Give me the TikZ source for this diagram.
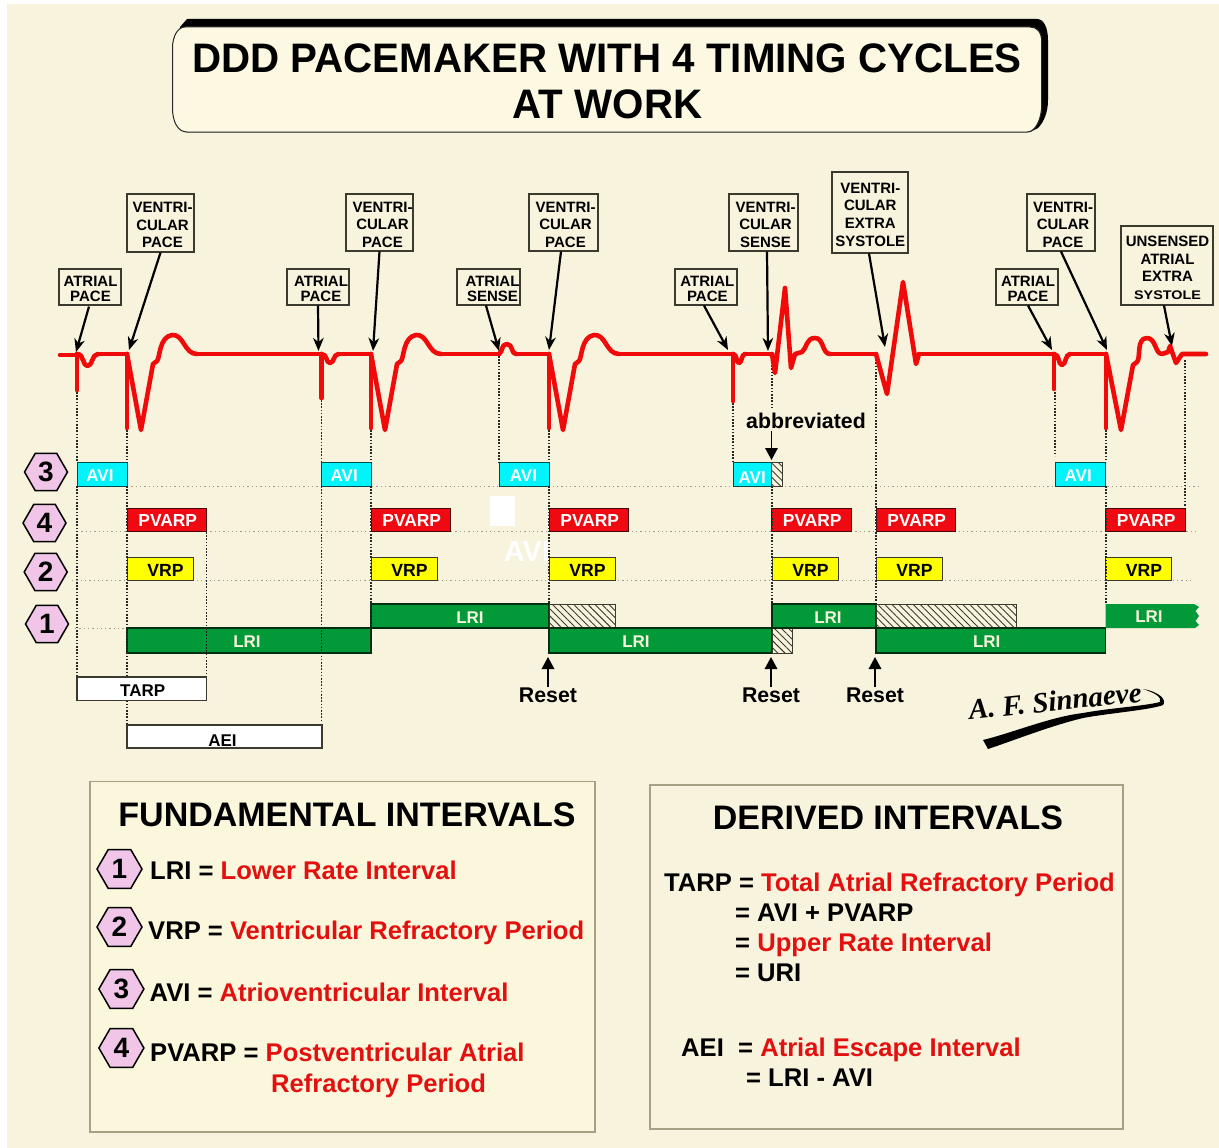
\documentclass[tikz,border=0pt]{standalone}
\usepackage{fontspec}
\usepackage{graphicx}
\setmainfont{Liberation Sans}
\newfontfamily\sigfont{Liberation Serif}
\usetikzlibrary{arrows.meta,shapes.geometric,patterns.meta,calc}
\definecolor{bgc}{HTML}{F7F3DC}
\definecolor{panelc}{HTML}{FAF7DC}
\definecolor{titlec}{HTML}{FCF8E2}
\definecolor{panelb}{HTML}{A5A184}
\definecolor{ecgred}{HTML}{F00A0A}
\definecolor{txtred}{HTML}{E31010}
\definecolor{avic}{HTML}{00F5FA}
\definecolor{pvc}{HTML}{EE0A10}
\definecolor{vrpc}{HTML}{FFFF00}
\definecolor{lric}{HTML}{029A38}
\definecolor{hexc}{HTML}{F0C5E8}
\definecolor{edgec}{HTML}{3A3A2E}
\newcommand{\fsz}[2]{\fontsize{#1}{#2}\selectfont\bfseries}
% a strut that moves the text of a one-line box down by #1 pt
\newcommand{\dn}[1]{\rule{0pt}{\dimexpr 12.3pt+#1pt+#1pt\relax}}
% style, name, x1, y1, x2, y2, text
\newcommand{\tbox}[7]{%
  \pgfmathsetmacro{\cxv}{(#3+#5)/2}\pgfmathsetmacro{\cyv}{(#4+#6)/2}%
  \pgfmathsetmacro{\wv}{#5-#3}\pgfmathsetmacro{\hv}{#6-#4}%
  \node[#1,minimum width=\wv pt,minimum height=\hv pt,inner sep=0pt] (#2) at (\cxv,\cyv) {#7};}
% style, name, x1, y1, x2, y2, text shift in x, text
\newcommand{\cbox}[8]{%
  \tbox{callshape}{#2}{#3}{#4}{#5}{#6}{}%
  \node[#1] (#2t) at ($(#2)+(#7,2.2)$) {#8};}
\newcommand{\pacedbeat}[1]{%
  \begin{scope}[xshift=#1pt]
    \draw[ecg] (127,354) -- (127,428);
    \draw[ecg] (127,354) -- (141,430) -- (153,364) -- (157,361)
      .. controls (160,358) and (159,337) .. (172,335)
      .. controls (184,334) and (184,354) .. (197,354);
  \end{scope}}
% x, lowest y of the spike, width of the dip, depth of the dip
\newcommand{\atrialbeat}[4]{%
  \begin{scope}[xshift=#1pt]
    \pgfmathsetmacro{\wa}{0.35*#3}\pgfmathsetmacro{\wb}{0.25*#3}\pgfmathsetmacro{\wc}{0.5*#3}%
    \pgfmathsetmacro{\wd}{0.75*#3}\pgfmathsetmacro{\we}{0.7*#3}\pgfmathsetmacro{\dy}{354+#4}%
    \draw[ecg] (0,354) -- (0,#2);
    \draw[ecg] (0,354) .. controls (\wa,354) and (\wb,\dy) .. (\wc,\dy)
      .. controls (\wd,\dy) and (\we,354) .. (#3,354);
  \end{scope}}
\tikzset{
  ecg/.style={draw=ecgred,line width=4.6pt,line cap=round,line join=round},
  hdot/.style={draw=black!35!bgc,line width=0.9pt,dash pattern=on 1.3pt off 3pt},
  vdot/.style={draw=black!85,line width=1.5pt,dash pattern=on 1.6pt off 1.6pt},
  callshape/.style={draw=edgec,line width=1.1pt,fill=bgc},
  calltext/.style={inner sep=0pt,align=center,font=\fsz{15}{17.7}},
  calltight/.style={calltext,font=\fsz{15}{15.2}},
  callarrow/.style={draw=black,line width=2.2pt,-{Stealth[length=13pt,width=10.5pt,inset=4pt]}},
  resetarrow/.style={draw=black,line width=1.6pt,-{Triangle[length=12pt,width=12.5pt]}},
  avibox/.style={draw=black!70!avic,line width=1pt,fill=avic,text=white,font=\fsz{17}{17}},
  pvbox/.style={draw=black!70!pvc,line width=1pt,fill=pvc,text=white,font=\fsz{17.4}{17}},
  vrpbox/.style={draw=edgec,line width=1pt,fill=vrpc,text=black,font=\fsz{17.6}{17}},
  lribox/.style={draw=black!70!lric,line width=1.1pt,fill=lric,text=bgc,font=\fsz{17}{17}},
  whitebox/.style={draw=edgec,line width=1.1pt,fill=white,text=black,font=\fsz{17}{17}},
  hatched/.style={draw=edgec,line width=1pt,pattern={Lines[angle=-45,distance=5pt,line width=0.9pt]},pattern color=edgec},
  hexnum/.style={regular polygon,regular polygon sides=6,minimum size=43pt,inner sep=0pt,draw=black,line width=1.5pt,fill=hexc,font=\fsz{28}{28}},
  paneltxt/.style={anchor=base west,inner sep=0pt,font=\fsz{25.6}{28}},
  panelhead/.style={anchor=center,inner sep=0pt,font=\fsz{34}{36}},
  panelbox/.style={draw=panelb,line width=1.2pt,fill=panelc},
  midtxt/.style={inner sep=0pt,font=\fsz{21.3}{24}}
}
\begin{document}
\begin{tikzpicture}[x=1pt,y=-1pt]
\useasboundingbox (0,0) rectangle (1219,1148);
\fill[white] (0,0) rectangle (1219,1148);
\fill[bgc] (7,4) rectangle (1219,1148);

% title plaque
\fill[black] (187,19) -- (1037,19) .. controls (1044,19) and (1048,28) .. (1048,40)
  -- (1048,100) .. controls (1048,112) and (1044,122) .. (1038,128) -- (1030,132)
  -- (185,132) -- (180,27) -- cycle;
\filldraw[fill=titlec,draw=black!85,line width=1pt] (185,27) -- (1030,27)
  .. controls (1037,27) and (1041.7,32) .. (1041.7,42) -- (1041.7,105)
  .. controls (1041.7,118) and (1036,132) .. (1027,132) -- (187,132)
  .. controls (178,132) and (172.5,122) .. (172.5,108) -- (172.5,48)
  .. controls (172.5,36) and (178,27) .. (185,27) -- cycle;
\node[inner sep=0pt,font=\fsz{41.2}{46}] (title1) at (607,58) {\scalebox{0.978}[1]{DDD PACEMAKER WITH 4 TIMING CYCLES}};
\node[inner sep=0pt,font=\fsz{41.2}{46}] (title2) at (607.5,104.5) {\scalebox{0.978}[1]{AT WORK}};

% horizontal guides
\draw[hdot] (127,486) -- (1200,486);
\draw[hdot] (77,531) -- (1197,531);
\draw[hdot] (72,580) -- (1193,580);
\draw[hdot] (75,628) -- (127,628);

% artefact of the source
\fill[white] (490,496) rectangle (515,526);
\node[inner sep=0pt,text=white,font=\fsz{29}{29}] (ghost) at (527,552) {AVI};

% hexagons of the rows
\node[hexnum] (h3) at (46,472) {3};
\node[hexnum] (h4) at (44.5,523) {4};
\node[hexnum] (h2) at (45.7,572) {2};
\node[hexnum] (h1) at (47,624) {1};

% AVI row
\tbox{avibox}{av1}{77}{462}{127}{486}{\dn{1}\hspace{-4pt}AVI}
\tbox{avibox}{av2}{321.5}{462}{371}{486}{\dn{1}\hspace{-4pt}AVI}
\tbox{avibox}{av3}{499}{462}{549}{486}{\dn{1}\hspace{-1pt}AVI}
\tbox{avibox}{av4}{733}{462}{771.5}{486}{\dn{3}AVI}
\tbox{hatched}{avh}{771.5}{462}{782}{486}{}
\tbox{avibox}{av5}{1055}{462}{1105.5}{486}{\dn{1}\hspace{-4pt}AVI}

% PVARP row
\foreach \n/\a in {1/127,2/371,3/549,4/771.5,5/876,6/1105.5}{
  \pgfmathsetmacro{\e}{\a+79.5}
  \tbox{pvbox}{pv\n}{\a}{508}{\e}{531.5}{\dn{1}\hspace{2pt}PVARP}
}
% VRP row
\foreach \n/\a in {1/127,2/371,3/549,4/772,5/876,6/1105.5}{
  \pgfmathsetmacro{\e}{\a+66}
  \tbox{vrpbox}{vr\n}{\a}{557}{\e}{580}{\dn{1.5}\hspace{11pt}VRP}
}
% LRI rows
\tbox{lribox}{lr1}{127}{628}{371}{653}{\dn{1}\hspace{-4pt}LRI}
\tbox{lribox}{lr2}{371}{604}{549}{628}{\dn{1}\hspace{20pt}LRI}
\tbox{hatched}{lh2}{549}{604}{615}{628}{}
\tbox{lribox}{lr3}{549}{628}{772}{653}{\dn{1}\hspace{-49pt}LRI}
\tbox{hatched}{lh3}{772}{628}{792}{653}{}
\tbox{lribox}{lr4}{772}{604}{876}{628}{\dn{1}\hspace{8pt}LRI}
\tbox{hatched}{lh4}{876}{604}{1016.5}{628}{}
\tbox{lribox}{lr5}{876}{628}{1105.5}{653}{\dn{1}\hspace{-8pt}LRI}
\fill[lric] (1105.5,604) -- (1194,604) -- (1199,607) -- (1195.5,611) -- (1199,616)
  -- (1195.5,621) -- (1199,625) -- (1195,628) -- (1105.5,628) -- cycle;
\node[inner sep=0pt,text=bgc,font=\fsz{17}{17}] (lr6) at (1149,617) {LRI};

% vertical guides
\foreach \x/\a/\b in {77/392/462, 77/486/677, 127/430/462, 127/486/725, 206.5/532/677,
  321.5/400/462, 321.5/486/720, 371/430/462, 371/486/628, 499/356/462, 549/430/462, 549/486/604,
  733/403/462, 772/362/407, 772/486/604, 876/356/601, 1055/392/456, 1106/430/462, 1106/486/604,
  1185/360/507}{
  \draw[vdot] (\x,\a) -- (\x,\b);
}

% derived intervals
\tbox{whitebox}{tarp}{77}{677}{206.5}{700.5}{\dn{1.5}\hspace{2pt}TARP}
\tbox{whitebox}{aei}{127}{725}{322}{748}{\dn{3.5}\hspace{-4pt}AEI}

% ECG
\draw[ecg] (60,355) -- (77,355) (98,354) -- (127,354) (197,354) -- (321.5,354)
  (338.5,354) -- (371,354) (441,354) -- (499,354) (516,354) -- (549,354)
  (619,354) -- (733,354) (745,354) -- (772,354) (830,354) -- (876,354)
  (919,354) -- (1054,354) (1070,354) -- (1106,354);
\atrialbeat{77}{390}{21}{12}
\atrialbeat{321.5}{398}{17}{9}
\atrialbeat{733}{401}{12}{9}
\atrialbeat{1054}{389}{16}{11}
\pacedbeat{0}
\pacedbeat{244}
\pacedbeat{422}
\draw[ecg] (499,354) .. controls (503,352) and (501,344) .. (507,344)
  .. controls (513,344) and (511,354) .. (516,354);
\draw[ecg] (772,354) -- (775,373) -- (785,288) -- (791,368) -- (795,354) -- (802,352)
  .. controls (807,348) and (806,338) .. (815,338) .. controls (824,338) and (822,354) .. (830,354);
\draw[ecg] (876,354) -- (887,394) -- (903,282) -- (916,364) -- (919,354);
\draw[ecg] (1106,354) -- (1106,428);
\draw[ecg] (1106,354) -- (1121,430) -- (1133,365) -- (1137,362)
  .. controls (1141,358) and (1136,338) .. (1147,338)
  .. controls (1156,338) and (1155,354) .. (1162,354)
  -- (1168,352) -- (1170,346) -- (1176,363) -- (1182,354) -- (1206,354);

% callouts
\cbox{calltight}{a1}{59}{269}{121}{305}{0.5}{ATRIAL\\PACE}
\cbox{calltext}{v1}{127}{194}{194}{252}{2}{VENTRI-\\CULAR\\PACE}
\cbox{calltight}{a2}{287}{269}{349}{305}{3}{ATRIAL\\PACE}
\cbox{calltext}{v2}{346}{194}{413}{251}{3}{VENTRI-\\CULAR\\PACE}
\cbox{calltight}{s3}{457}{269}{520}{305}{4}{ATRIAL\\SENSE}
\cbox{calltext}{v3}{529}{194}{598}{251}{2}{VENTRI-\\CULAR\\PACE}
\cbox{calltight}{a4}{675}{269}{737}{305}{1.3}{ATRIAL\\PACE}
\cbox{calltext}{v4}{729}{194}{798}{251}{2}{VENTRI-\\CULAR\\SENSE}
\cbox{calltext}{ve}{832}{172}{908}{253}{0.3}{VENTRI-\\CULAR\\EXTRA\\SYSTOLE}
\cbox{calltext}{v5}{1027}{194}{1095}{251}{2}{VENTRI-\\CULAR\\PACE}
\cbox{calltight}{a5}{996}{269}{1058}{305}{1}{ATRIAL\\PACE}
\cbox{calltext}{ua}{1121}{226}{1213}{305}{0.5}{UNSENSED\\ATRIAL\\EXTRA\\\scalebox{1.15}[1]{\fsz{12.5}{15}SYSTOLE}}

\coordinate (ta1) at (76,352);
\coordinate (tv1) at (129,350);
\coordinate (ta2) at (318.5,351);
\coordinate (tv2) at (373,351);
\coordinate (ts3) at (499,351);
\coordinate (tv3) at (549,350);
\coordinate (ta4) at (728,350);
\coordinate (tv4) at (768,351);
\coordinate (tve) at (885,347);
\coordinate (tv5) at (1107,350);
\coordinate (ta5) at (1052,350);
\coordinate (tua) at (1172,346);
\draw[callarrow] ($(a1.south)+(-1,1)$) -- (ta1);
\draw[callarrow] ($(v1.south)+(0,0)$) -- (tv1);
\draw[callarrow] ($(a2.south)+(0,0)$) -- (ta2);
\draw[callarrow] ($(v2.south)+(0,0)$) -- (tv2);
\draw[callarrow] ($(s3.south)+(-2.5,0)$) -- (ts3);
\draw[callarrow] ($(v3.south)+(-2.5,0)$) -- (tv3);
\draw[callarrow] ($(a4.south)+(-2,0)$) -- (ta4);
\draw[callarrow] ($(v4.south)+(3.5,0)$) -- (tv4);
\draw[callarrow] ($(ve.south)+(-1,0)$) -- (tve);
\draw[callarrow] ($(v5.south)+(0,0)$) -- (tv5);
\draw[callarrow] ($(a5.south)+(1,0)$) -- (ta5);
\draw[callarrow] ($(ua.south)+(-3,0)$) -- (tua);

% abbreviated
\node[midtxt] (abbr) at (806,420.5) {abbreviated};
\coordinate (abbrtip) at (771.5,460);
\draw[resetarrow] (771.5,431) -- (abbrtip);

% resets
\node[midtxt] (r1) at (548,695) {Reset};
\node[midtxt] (r2) at (771,695) {Reset};
\node[midtxt] (r3) at (875,695) {Reset};
\coordinate (rt1) at (548,657);
\coordinate (rt2) at (771,657);
\coordinate (rt3) at (875,657);
\draw[resetarrow] (r1.north) -- (rt1);
\draw[resetarrow] (r2.north) -- (rt2);
\draw[resetarrow] (r3.north) -- (rt3);

% signature
\node[inner sep=0pt,rotate=6,font=\sigfont\itshape\fsz{29}{29}] (sig) at (1055,701) {A. F. Sinnaeve};
\fill[black] (983,740) -- (988,749) .. controls (1015,740) and (1050,726) .. (1083,718)
  .. controls (1110,713) and (1150,710) .. (1163,705)
  .. controls (1167,700) and (1160,692) .. (1143,689)
  .. controls (1155,693) and (1162,697) .. (1160,702)
  .. controls (1145,706) and (1110,708) .. (1083,713)
  .. controls (1050,717) and (1015,732) .. (983,740) -- cycle;

% panels
\draw[panelbox] (90,781.5) rectangle (595,1132);
\node[panelhead] (ph1) at (347,815) {FUNDAMENTAL INTERVALS};
\node[hexnum,minimum size=45pt] (k1) at (119.5,869) {1};
\node[hexnum,minimum size=45pt] (k2) at (119.5,927) {2};
\node[hexnum,minimum size=45pt] (k3) at (121.4,989) {3};
\node[hexnum,minimum size=45pt] (k4) at (121.4,1048) {4};
\node[paneltxt] (t1) at (150,879) {LRI = \textcolor{txtred}{Lower Rate Interval}};
\node[paneltxt] (t2) at (148,939) {VRP = \textcolor{txtred}{Ventricular Refractory Period}};
\node[paneltxt] (t3) at (149.5,1001) {AVI = \textcolor{txtred}{Atrioventricular Interval}};
\node[paneltxt] (t4) at (150,1061) {PVARP = \textcolor{txtred}{Postventricular Atrial}};
\node[paneltxt,text=txtred] (t5) at (271,1092) {Refractory Period};

\draw[panelbox,fill=bgc] (650,785) rectangle (1123,1129);
\node[panelhead] (ph2) at (888,818) {DERIVED INTERVALS};
\node[paneltxt] (d1) at (664,891) {TARP = \textcolor{txtred}{Total Atrial Refractory Period}};
\node[paneltxt] (d2) at (735,921) {= AVI + PVARP};
\node[paneltxt] (d3) at (735,951) {= \textcolor{txtred}{Upper Rate Interval}};
\node[paneltxt] (d4) at (735,981) {= URI};
\node[paneltxt] (d5) at (681,1056) {AEI};
\node[paneltxt] (d6) at (738,1056) {= \textcolor{txtred}{Atrial Escape Interval}};
\node[paneltxt] (d7) at (746,1086) {= LRI - AVI};
\end{tikzpicture}
\end{document}
